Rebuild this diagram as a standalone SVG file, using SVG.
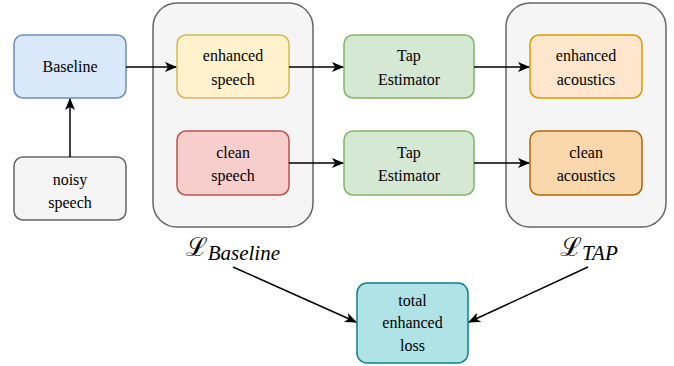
<svg xmlns="http://www.w3.org/2000/svg" width="674" height="366" viewBox="0 0 674 366">
<defs>
<marker id="ah" markerWidth="12" markerHeight="10" refX="11" refY="5" orient="auto" markerUnits="userSpaceOnUse">
<path d="M0,0 L12,5 L0,10 L3,5 Z" fill="#000"/>
</marker>
<style>
.t{font-family:'Times New Roman','Liberation Serif',Tinos,'DejaVu Serif','Noto Serif',serif;font-size:16px;fill:#000;text-anchor:middle}
.n{stroke-width:1.5}
.e{stroke:#000;stroke-width:1.5;fill:none;marker-end:url(#ah)}
.m{font-size:26px;font-style:italic}
.s{font-size:21px;font-style:italic}
</style>
</defs>
<g id="group-baseline"><rect x="153" y="3" width="160" height="224" rx="24" fill="#f5f5f5" stroke="#666666" class="n"/></g>
<g id="group-tap"><rect x="506" y="3" width="160" height="224" rx="24" fill="#f5f5f5" stroke="#666666" class="n"/></g>
<g id="baseline"><rect x="14" y="35" width="112" height="63" rx="9" fill="#dae8fc" stroke="#6c8ebf" class="n"/><text class="t" x="70" y="72">Baseline</text></g>
<g id="noisy"><rect x="14" y="157" width="112" height="63" rx="9" fill="#f5f5f5" stroke="#666666" class="n"/><text class="t" x="70" y="185">noisy</text><text class="t" x="70" y="208">speech</text></g>
<g id="enh-speech"><rect x="177" y="35" width="112" height="63" rx="9" fill="#fff2cc" stroke="#d6b656" class="n"/><text class="t" x="233" y="61">enhanced</text><text class="t" x="233" y="85">speech</text></g>
<g id="clean-speech"><rect x="177" y="131" width="112" height="64" rx="9" fill="#f8cecc" stroke="#b85450" class="n"/><text class="t" x="233" y="158">clean</text><text class="t" x="233" y="181">speech</text></g>
<g id="tap1"><rect x="344" y="35" width="130" height="63" rx="9" fill="#d5e8d4" stroke="#82b366" class="n"/><text class="t" x="409" y="61">Tap</text><text class="t" x="409" y="85">Estimator</text></g>
<g id="tap2"><rect x="344" y="131" width="130" height="64" rx="9" fill="#d5e8d4" stroke="#82b366" class="n"/><text class="t" x="409" y="158">Tap</text><text class="t" x="409" y="181">Estimator</text></g>
<g id="enh-ac"><rect x="530" y="35" width="112" height="63" rx="9" fill="#ffe6cc" stroke="#d79b00" class="n"/><text class="t" x="586" y="61">enhanced</text><text class="t" x="586" y="85">acoustics</text></g>
<g id="clean-ac"><rect x="530" y="131" width="112" height="64" rx="9" fill="#fad7ac" stroke="#b46504" class="n"/><text class="t" x="586" y="158">clean</text><text class="t" x="586" y="181">acoustics</text></g>
<g id="total"><rect x="357" y="283" width="111" height="80" rx="10" fill="#b0e3e6" stroke="#0e8088" class="n"/><text class="t" x="412.5" y="306">total</text><text class="t" x="412.5" y="328">enhanced</text><text class="t" x="412.5" y="351">loss</text></g>
<g id="label-baseline"><text class="t" x="233" y="256"><tspan class="m">ℒ</tspan><tspan class="s" dy="4">Baseline</tspan></text></g>
<g id="label-tap"><text class="t" x="589" y="256"><tspan class="m">ℒ</tspan><tspan class="s" dy="4">TAP</tspan></text></g>
<g id="connectors">
<line class="e" x1="70" y1="157" x2="70" y2="99"/>
<line class="e" x1="126" y1="67" x2="176" y2="67"/>
<line class="e" x1="289" y1="67" x2="343" y2="67"/>
<line class="e" x1="289" y1="163" x2="343" y2="163"/>
<line class="e" x1="474" y1="67" x2="529" y2="67"/>
<line class="e" x1="474" y1="163" x2="529" y2="163"/>
<line class="e" x1="233" y1="267" x2="356" y2="322"/>
<line class="e" x1="588" y1="267" x2="469" y2="322"/>
</g>
</svg>
